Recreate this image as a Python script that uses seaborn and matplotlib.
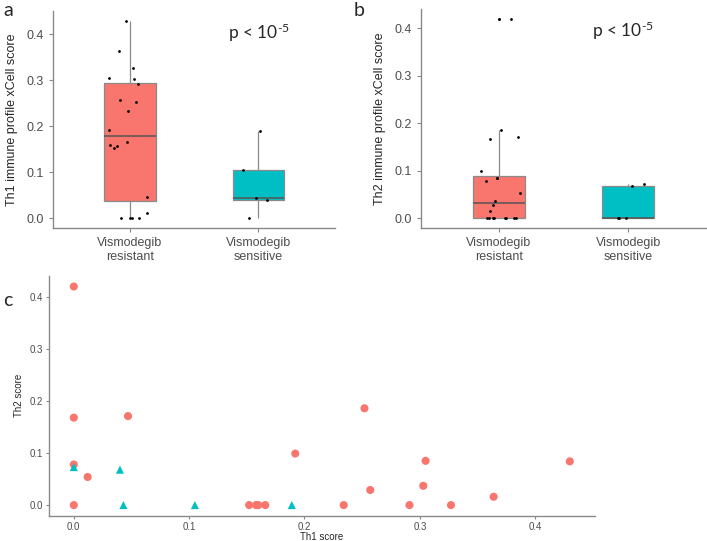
import numpy as np
import pandas as pd
import matplotlib
matplotlib.use("Agg")
import matplotlib.pyplot as plt
import seaborn as sns

# groups and per-sample scores
groups = ["Vismodegib\nresistant", "Vismodegib\nsensitive"]
th1_resistant = [0.0, 0.0, 0.0, 0.0, 0.047, 0.012, 0.152, 0.158, 0.160, 0.166,
                 0.192, 0.234, 0.252, 0.257, 0.291, 0.303, 0.305, 0.327, 0.364, 0.430]
th2_resistant = [0.420, 0.168, 0.078, 0.0, 0.171, 0.054, 0.0, 0.0, 0.0, 0.0,
                 0.099, 0.0, 0.186, 0.029, 0.0, 0.037, 0.085, 0.0, 0.016, 0.084]
th1_sensitive = [0.0, 0.040, 0.043, 0.105, 0.189]
th2_sensitive = [0.073, 0.068, 0.0, 0.0, 0.0]

colors = ["#F8766D", "#00BFC4"]
axis_grey = "#8a8a8a"
tick_grey = "#4d4d4d"

df = pd.DataFrame({
    "group": [groups[0]] * len(th1_resistant) + [groups[1]] * len(th1_sensitive),
    "th1": th1_resistant + th1_sensitive,
    "th2": th2_resistant + th2_sensitive,
})

sns.set_style("white")
plt.rcParams["font.family"] = ["Liberation Sans", "DejaVu Sans"]
plt.rcParams["mathtext.fontset"] = "custom"
plt.rcParams["mathtext.rm"] = "Lato"
plt.rcParams["mathtext.it"] = "Lato"

fig = plt.figure(figsize=(7.07, 5.41), dpi=100)
ax_a = fig.add_axes([0.075, 0.5786, 0.399, 0.4017])
ax_b = fig.add_axes([0.5955, 0.578, 0.403, 0.4057])
ax_c = fig.add_axes([0.0693, 0.0462, 0.7717, 0.4444])

np.random.seed(3)


def box_panel(ax, col, ylabel, ylim):
    sns.boxplot(data=df, x="group", y=col, hue="group", palette=colors, ax=ax,
                width=0.4, saturation=1, legend=False, linecolor=axis_grey,
                linewidth=0.9, showcaps=False,
                medianprops={"color": "#555555", "linewidth": 1.1},
                flierprops={"marker": "o", "markersize": 2.2, "markerfacecolor": "black",
                            "markeredgewidth": 0})
    sns.stripplot(data=df, x="group", y=col, color="black", size=2, jitter=0.17, ax=ax)
    ax.set_xlim(-0.6, 1.6)
    ax.set_ylim(*ylim)
    ax.set_yticks([0.0, 0.1, 0.2, 0.3, 0.4])
    ax.set_yticklabels(["0.0", "0.1", "0.2", "0.3", "0.4"])
    ax.set_xlabel("")
    ax.set_ylabel(ylabel, fontsize=9, labelpad=6)
    ax.tick_params(axis="both", labelsize=9, colors=tick_grey, length=3, width=0.8,
                   direction="out", color=axis_grey, left=True, bottom=True)
    for side in ["top", "right"]:
        ax.spines[side].set_visible(False)
    for side in ["left", "bottom"]:
        ax.spines[side].set_color(axis_grey)
        ax.spines[side].set_linewidth(1.0)


box_panel(ax_a, "th1", "Th1 immune profile xCell score", (-0.0215, 0.4515))
box_panel(ax_b, "th2", "Th2 immune profile xCell score", (-0.021, 0.441))

p_label = r"p < 10$^{\text{-5}}$"
ax_a.text(0.73, 0.90, p_label, transform=ax_a.transAxes, fontsize=12.5,
          family="Lato", ha="center", va="center")
ax_b.text(0.71, 0.90, p_label, transform=ax_b.transAxes, fontsize=12.5,
          family="Lato", ha="center", va="center")

# scatter of Th1 vs Th2
sns.scatterplot(data=df, x="th1", y="th2", hue="group", style="group",
                markers={groups[0]: "o", groups[1]: "^"}, palette=colors,
                s=34, linewidth=0, legend=False, ax=ax_c)
ax_c.set_xlim(-0.0215, 0.4515)
ax_c.set_ylim(-0.021, 0.441)
ax_c.set_xticks([0.0, 0.1, 0.2, 0.3, 0.4])
ax_c.set_xticklabels(["0.0", "0.1", "0.2", "0.3", "0.4"])
ax_c.set_yticks([0.0, 0.1, 0.2, 0.3, 0.4])
ax_c.set_yticklabels(["0.0", "0.1", "0.2", "0.3", "0.4"])
ax_c.set_xlabel("Th1 score", fontsize=7, labelpad=0)
ax_c.set_ylabel("Th2 score", fontsize=7, labelpad=4)
ax_c.tick_params(axis="both", labelsize=7, colors=tick_grey, length=2.5, width=0.8,
                 direction="out", color=axis_grey, left=True, bottom=True, pad=2)
for side in ["top", "right"]:
    ax_c.spines[side].set_visible(False)
for side in ["left", "bottom"]:
    ax_c.spines[side].set_color(axis_grey)
    ax_c.spines[side].set_linewidth(1.0)

# panel letters
fig.text(3 / 707, 1 - 10 / 541, "a", fontsize=14, family="Lato", va="center")
fig.text(354 / 707, 1 - 10 / 541, "b", fontsize=14, family="Lato", va="center")
fig.text(3 / 707, 1 - 300 / 541, "c", fontsize=14, family="Lato", va="center")

fig.savefig("out.png", dpi=100)
